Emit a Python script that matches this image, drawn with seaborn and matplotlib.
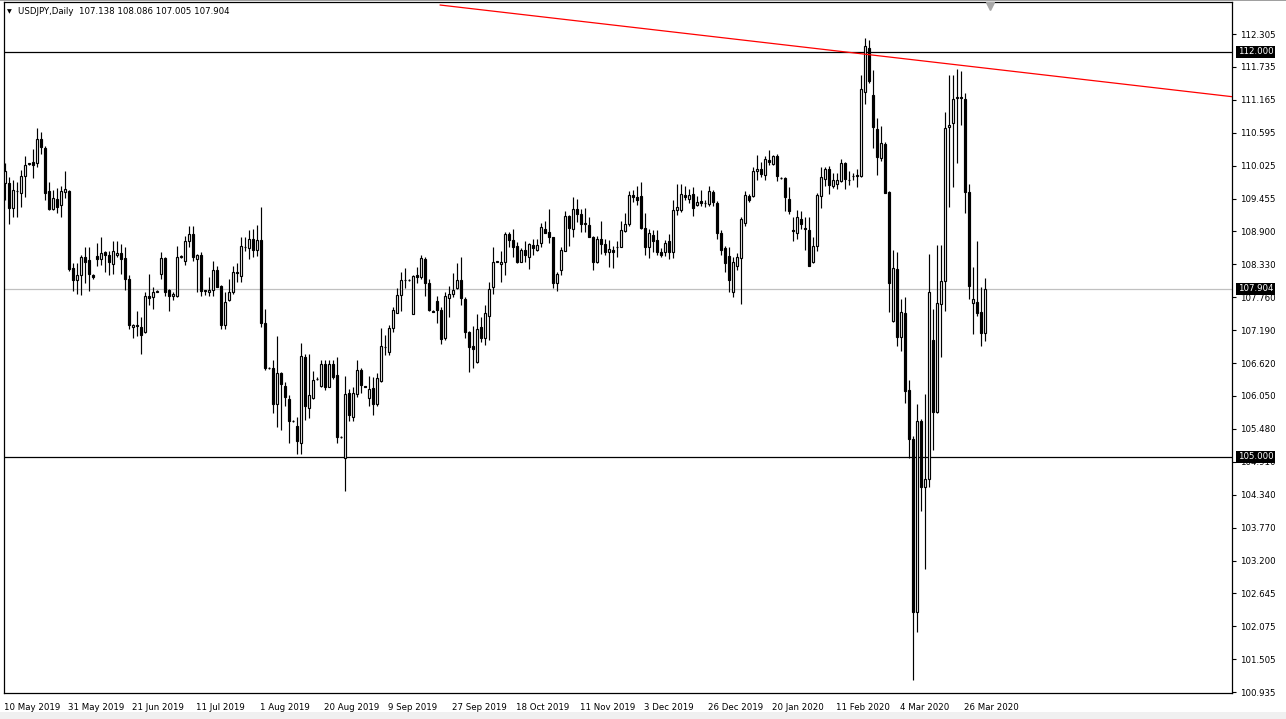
import numpy as np
import pandas as pd
import matplotlib
matplotlib.use("Agg")
import matplotlib.pyplot as plt
import matplotlib.transforms as mtransforms
from matplotlib.patches import Rectangle
import seaborn as sns

# ---------------- data (USDJPY daily) ----------------
open_ = [109.73, 109.73, 109.29, 109.60, 109.56, 109.85, 110.06, 110.10, 110.07, 110.49,
         110.33, 109.59, 109.28, 109.45, 109.35, 109.57, 109.60, 108.26, 108.05, 108.14,
         108.45, 108.40, 108.14, 108.47, 108.42, 108.53, 108.49, 108.33, 108.48, 108.52,
         108.43, 108.08, 107.24, 107.27, 107.25, 107.15, 107.78, 107.76, 107.85, 108.15,
         108.43, 107.88, 107.77, 107.78, 108.46, 108.39, 108.73, 108.85, 108.41, 108.49,
         107.87, 107.85, 107.89, 108.23, 107.95, 107.28, 107.71, 107.84, 108.20, 108.12,
         108.63, 108.61, 108.77, 108.58, 108.75, 107.31, 106.54, 106.54, 105.92, 106.44,
         106.23, 105.99, 105.62, 105.54, 105.24, 106.73, 105.84, 106.02, 106.34, 106.23,
         106.61, 106.21, 106.60, 106.41, 105.35, 104.98, 106.10, 105.69, 106.08, 106.50,
         106.22, 106.01, 106.18, 105.92, 106.31, 106.89, 106.81, 107.22, 107.49, 107.79,
         108.05, 108.06, 107.47, 108.14, 108.10, 108.41, 108.00, 107.52, 107.69, 107.54,
         107.05, 107.74, 107.81, 107.91, 108.06, 107.72, 107.16, 106.91, 106.63, 107.24,
         107.05, 107.44, 107.93, 108.37, 108.33, 108.37, 108.85, 108.75, 108.64, 108.37,
         108.57, 108.46, 108.66, 108.57, 108.70, 108.93, 108.89, 108.79, 108.01, 108.22,
         108.56, 109.16, 108.93, 109.28, 109.19, 109.03, 109.00, 108.79, 108.37, 108.76,
         108.68, 108.53, 108.57, 108.62, 108.63, 108.90, 109.02, 109.52, 109.48, 109.51,
         108.96, 108.62, 108.84, 108.75, 108.54, 108.53, 108.73, 108.54, 109.26, 109.26,
         109.52, 109.45, 109.54, 109.35, 109.42, 109.38, 109.37, 109.58, 109.39, 108.87,
         108.60, 108.47, 107.85, 108.30, 108.43, 109.04, 109.51, 109.50, 109.94, 109.98,
         109.87, 110.12, 110.06, 110.19, 109.82, 109.82, 109.46, 108.91, 108.87, 109.10,
         108.96, 108.92, 108.37, 108.64, 109.51, 109.80, 109.98, 109.67, 109.71, 109.77,
         110.07, 109.79, 109.85, 109.86, 109.86, 111.31, 112.07, 111.25, 110.67, 110.17,
         110.40, 109.57, 107.35, 108.25, 107.07, 107.49, 106.15, 105.30, 102.32, 105.62,
         104.47, 104.61, 107.02, 105.78, 107.64, 108.03, 110.69, 110.77, 111.20, 111.21,
         111.19, 109.58, 107.66, 107.68, 107.51, 107.138]
high = [110.07, 109.83, 109.78, 109.75, 109.96, 110.20, 110.08, 110.31, 110.68, 110.62,
        110.37, 109.75, 109.61, 109.64, 109.68, 109.94, 109.61, 108.34, 108.35, 108.49,
        108.63, 108.62, 108.16, 108.70, 108.80, 108.55, 108.55, 108.73, 108.73, 108.68,
        108.62, 108.14, 107.29, 107.52, 107.41, 107.84, 108.16, 107.93, 107.88, 108.54,
        108.46, 107.90, 107.85, 108.64, 108.48, 108.81, 108.98, 108.99, 108.50, 108.53,
        107.89, 108.10, 108.38, 108.29, 107.97, 107.84, 108.07, 108.29, 108.34, 108.79,
        108.80, 108.91, 108.93, 109.00, 109.31, 107.56, 106.55, 106.67, 107.08, 106.46,
        106.29, 106.07, 105.63, 105.68, 106.97, 106.78, 106.78, 106.49, 106.37, 106.68,
        106.68, 106.67, 106.68, 106.72, 105.36, 106.40, 106.17, 106.21, 106.67, 106.53,
        106.23, 106.40, 106.38, 106.44, 107.22, 107.10, 107.27, 107.59, 107.92, 108.19,
        108.26, 108.07, 108.14, 108.28, 108.48, 108.46, 108.08, 107.53, 107.77, 107.58,
        107.85, 107.95, 108.17, 108.34, 108.46, 107.76, 107.17, 107.26, 107.47, 107.42,
        107.62, 108.02, 108.62, 108.39, 108.55, 108.89, 108.89, 108.93, 108.71, 108.60,
        108.73, 108.70, 108.76, 108.76, 109.04, 109.08, 109.28, 108.80, 108.19, 108.62,
        109.24, 109.18, 109.48, 109.46, 109.28, 109.29, 109.15, 108.81, 108.82, 109.07,
        108.76, 108.75, 108.64, 108.72, 109.08, 109.21, 109.60, 109.61, 109.68, 109.74,
        109.21, 108.93, 108.92, 108.92, 108.60, 108.74, 108.85, 109.44, 109.71, 109.71,
        109.68, 109.62, 109.66, 109.51, 109.61, 109.43, 109.67, 109.61, 109.42, 108.92,
        108.64, 108.62, 108.46, 108.52, 109.15, 109.60, 109.54, 110.01, 110.21, 110.10,
        110.20, 110.30, 110.21, 110.23, 109.83, 109.84, 109.66, 109.14, 109.26, 109.25,
        109.14, 109.14, 108.80, 109.55, 110.01, 110.01, 110.02, 109.90, 109.90, 110.14,
        110.10, 109.93, 109.90, 109.97, 111.60, 112.23, 112.20, 111.68, 110.86, 110.72,
        110.44, 109.60, 108.57, 108.54, 107.73, 107.76, 106.33, 105.36, 105.91, 105.65,
        106.08, 108.50, 107.56, 108.66, 108.66, 110.96, 111.60, 111.60, 111.70, 111.67,
        111.28, 109.71, 108.28, 108.73, 107.93, 108.086]
low = [109.44, 109.02, 109.15, 109.15, 109.32, 109.49, 110.04, 109.81, 110.00, 110.24,
       109.44, 109.27, 109.26, 109.21, 109.14, 109.47, 108.21, 107.87, 107.82, 107.80,
       108.01, 107.87, 108.08, 108.30, 108.31, 108.20, 108.14, 108.15, 108.45, 108.15,
       107.88, 107.20, 107.05, 107.08, 106.78, 107.14, 107.62, 107.55, 107.84, 108.07,
       107.77, 107.52, 107.71, 107.76, 108.44, 108.31, 108.63, 108.39, 107.85, 107.78,
       107.79, 107.78, 107.78, 107.93, 107.20, 107.20, 107.70, 107.82, 108.02, 108.02,
       108.56, 108.41, 108.46, 108.47, 107.24, 106.50, 106.52, 105.76, 105.51, 105.47,
       105.88, 105.24, 105.60, 105.04, 105.05, 105.64, 105.67, 105.99, 106.33, 106.21,
       106.15, 106.20, 106.34, 105.23, 105.33, 104.41, 105.61, 105.62, 106.03, 106.10,
       106.20, 105.88, 105.72, 105.88, 106.30, 106.75, 106.75, 107.16, 107.48, 107.52,
       107.91, 108.04, 107.46, 108.01, 108.07, 107.77, 107.52, 107.50, 107.31, 106.95,
       107.02, 107.41, 107.76, 107.90, 107.62, 107.05, 106.46, 106.53, 106.62, 106.99,
       106.93, 107.01, 107.81, 108.36, 108.02, 108.14, 108.62, 108.45, 108.35, 108.36,
       108.37, 108.24, 108.49, 108.56, 108.63, 108.86, 108.70, 107.91, 107.87, 108.14,
       108.55, 108.64, 108.79, 109.06, 108.89, 108.89, 108.79, 108.22, 108.34, 108.51,
       108.49, 108.28, 108.27, 108.46, 108.62, 108.89, 108.99, 109.41, 109.35, 108.93,
       108.49, 108.43, 108.54, 108.49, 108.46, 108.47, 108.42, 108.44, 109.18, 109.23,
       109.44, 109.39, 109.16, 109.33, 109.33, 109.32, 109.33, 109.33, 108.76, 108.49,
       108.20, 107.84, 107.76, 108.23, 107.64, 108.99, 109.40, 109.48, 109.79, 109.83,
       109.79, 110.04, 110.05, 109.77, 109.80, 109.25, 109.20, 108.72, 108.76, 108.93,
       108.58, 108.29, 108.35, 108.55, 109.29, 109.68, 109.54, 109.64, 109.62, 109.75,
       109.62, 109.70, 109.79, 109.66, 109.84, 111.09, 111.46, 110.33, 109.87, 110.11,
       109.55, 107.50, 107.33, 106.91, 106.83, 105.93, 104.97, 101.14, 101.98, 104.07,
       103.06, 104.48, 105.12, 105.76, 106.73, 107.52, 109.32, 109.66, 110.07, 110.73,
       109.21, 107.72, 107.12, 107.43, 106.91, 107.005]
close = [109.93, 109.29, 109.61, 109.59, 109.85, 110.04, 110.07, 110.05, 110.49, 110.35,
         109.56, 109.28, 109.47, 109.31, 109.59, 109.62, 108.24, 108.05, 108.14, 108.45,
         108.37, 108.16, 108.10, 108.42, 108.52, 108.49, 108.37, 108.56, 108.52, 108.41,
         108.07, 107.28, 107.28, 107.26, 107.11, 107.78, 107.75, 107.85, 107.86, 108.43,
         107.85, 107.78, 107.81, 108.46, 108.47, 108.73, 108.85, 108.46, 108.49, 107.87,
         107.88, 107.89, 108.22, 107.94, 107.28, 107.67, 107.85, 108.20, 108.17, 108.64,
         108.62, 108.77, 108.58, 108.75, 107.31, 106.54, 106.53, 105.92, 106.44, 106.25,
         106.04, 105.62, 105.61, 105.27, 106.74, 105.88, 106.06, 106.33, 106.35, 106.61,
         106.21, 106.60, 106.38, 105.35, 105.34, 106.08, 105.72, 106.10, 106.50, 106.24,
         106.21, 106.17, 105.91, 106.36, 106.91, 106.90, 107.22, 107.54, 107.79, 108.06,
         108.06, 108.05, 108.12, 108.10, 108.43, 108.00, 107.54, 107.51, 107.54, 107.03,
         107.77, 107.82, 107.88, 108.06, 107.74, 107.16, 106.89, 106.87, 107.20, 107.06,
         107.48, 107.90, 108.37, 108.38, 108.37, 108.85, 108.75, 108.62, 108.37, 108.58,
         108.48, 108.68, 108.61, 108.66, 108.97, 108.87, 108.79, 108.01, 108.16, 108.57,
         109.16, 108.95, 109.28, 109.19, 109.03, 109.04, 108.80, 108.37, 108.76, 108.68,
         108.53, 108.59, 108.54, 108.63, 108.92, 109.02, 109.52, 109.49, 109.44, 108.96,
         108.63, 108.86, 108.73, 108.53, 108.49, 108.69, 108.54, 109.26, 109.32, 109.54,
         109.48, 109.52, 109.30, 109.41, 109.38, 109.39, 109.59, 109.41, 108.87, 108.58,
         108.35, 108.06, 108.37, 108.46, 109.10, 109.52, 109.44, 109.94, 109.98, 109.89,
         110.14, 110.10, 110.19, 109.85, 109.81, 109.48, 109.25, 108.90, 109.14, 109.02,
         108.93, 108.30, 108.65, 109.52, 109.84, 109.98, 109.70, 109.78, 109.79, 110.08,
         109.80, 109.78, 109.86, 109.87, 111.35, 112.10, 111.49, 110.70, 110.18, 110.42,
         109.56, 108.01, 108.27, 107.07, 107.50, 106.14, 105.30, 102.32, 105.62, 104.47,
         104.61, 107.84, 105.78, 107.65, 108.03, 110.68, 110.74, 111.19, 111.21, 111.20,
         109.58, 107.95, 107.72, 107.49, 107.14, 107.904]

date_labels = ["10 May 2019", "31 May 2019", "21 Jun 2019", "11 Jul 2019", "1 Aug 2019",
               "20 Aug 2019", "9 Sep 2019", "27 Sep 2019", "18 Oct 2019", "11 Nov 2019",
               "3 Dec 2019", "26 Dec 2019", "20 Jan 2020", "11 Feb 2020", "4 Mar 2020",
               "26 Mar 2020"]
date_bar_index = [0, 16, 32, 48, 64, 80, 96, 112, 128, 144, 160, 176, 192, 208, 224, 240]

price_ticks = [112.305, 111.735, 111.165, 110.595, 110.025, 109.455, 108.900, 108.330,
               107.760, 107.190, 106.620, 106.050, 105.480, 104.910, 104.340, 103.770,
               103.200, 102.645, 102.075, 101.505, 100.935]

level_lines = [112.000, 105.000]
bid_price = 107.904
trend_x = [108.75, 306.75]
trend_y = [112.806, 111.222]

symbol = "USDJPY,Daily"
header_ohlc = "107.138 108.086 107.005 107.904"

# ---------------- drawing ----------------
sns.set_style("white")
plt.rcParams["font.family"] = ["DejaVu Sans"]

df = pd.DataFrame({"open": open_, "high": high, "low": low, "close": close})
df["idx"] = np.arange(len(df))

W, H = 1286, 719
fig = plt.figure(figsize=(W / 100, H / 100), dpi=100, facecolor="white")
ax = fig.add_axes([4 / W, 26 / H, 1228 / W, 691 / H])
ax.set_facecolor("white")

x = df["idx"].to_numpy()
o = df["open"].to_numpy()
c = df["close"].to_numpy()
hi = df["high"].to_numpy()
lo = df["low"].to_numpy()

# wicks
ax.vlines(x, lo, hi, color="black", linewidth=0.85, zorder=2)
# bodies
bull = c >= o
body_h = np.maximum(np.abs(c - o), 0.004)
body_b = np.minimum(o, c)
ax.bar(x[bull], body_h[bull], bottom=body_b[bull], width=0.5, facecolor="white",
       edgecolor="black", linewidth=0.85, zorder=3)
ax.bar(x[~bull], body_h[~bull], bottom=body_b[~bull], width=0.5, facecolor="black",
       edgecolor="black", linewidth=0.85, zorder=3)

# horizontal levels and bid line
for lv in level_lines:
    ax.axhline(lv, color="black", linewidth=0.9, zorder=1)
ax.axhline(bid_price, color="#c0c0c0", linewidth=0.9, zorder=1)

# trend line
tl = pd.DataFrame({"x": trend_x, "y": trend_y})
sns.lineplot(data=tl, x="x", y="y", ax=ax, color="red", linewidth=0.9, zorder=4)

ax.set_xlim(-0.25, 306.75)
ax.set_ylim(100.918, 112.858)

# right price axis
ax.yaxis.tick_right()
ax.set_yticks(price_ticks)
ax.set_yticklabels([f"{t:.3f}" for t in price_ticks])
ax.tick_params(axis="y", direction="out", length=3, width=0.8, pad=3,
               labelsize=6.2, colors="black")

# bottom date axis
ax.set_xticks(date_bar_index)
ax.set_xticklabels(date_labels, ha="left")
ax.tick_params(axis="x", direction="out", length=5, width=0.8, pad=2,
               labelsize=6.2, colors="black")
for lab in ax.get_xticklabels():
    lab.set_horizontalalignment("left")
    lab.set_x(lab.get_position()[0])
offset = mtransforms.ScaledTranslation(-1 / 100, 0, fig.dpi_scale_trans)
for lab in ax.get_xticklabels():
    lab.set_transform(lab.get_transform() + offset)

ax.set_xlabel("")
ax.set_ylabel("")
for s in ax.spines.values():
    s.set_color("black")
    s.set_linewidth(0.9)
    s.set_visible(True)

# highlighted price labels on the right axis
trans = mtransforms.blended_transform_factory(ax.transAxes, ax.transData)
for val in level_lines + [bid_price]:
    ax.text(1.0 + 6 / 1228, val, f"{val:.3f}", transform=trans, ha="left", va="center",
            fontsize=6.2, color="white", zorder=10, clip_on=False,
            bbox=dict(boxstyle="square,pad=0.18", facecolor="black", edgecolor="none"))

# shift marker at the top
ax.plot([246.25], [112.79], marker="v", markersize=6, color="#a8a8a8",
        clip_on=False, zorder=6, linestyle="none")

# header text
fig.text(7 / W, 1 - 12 / H, "\u25BC", fontsize=4.5, color="black", va="center", ha="left")
fig.text(18 / W, 1 - 12 / H, f"{symbol}  {header_ohlc}", fontsize=6.2, color="black",
         va="center", ha="left")

# window chrome
fig.patches.append(Rectangle((0, 0), 1, 7 / H, transform=fig.transFigure,
                             facecolor="#f0f0f0", edgecolor="none", zorder=0))
fig.patches.append(Rectangle((0, 1 - 1 / H), 1, 1 / H, transform=fig.transFigure,
                             facecolor="#a0a0a0", edgecolor="none", zorder=0))

fig.savefig("out.png", dpi=100, facecolor="white")
